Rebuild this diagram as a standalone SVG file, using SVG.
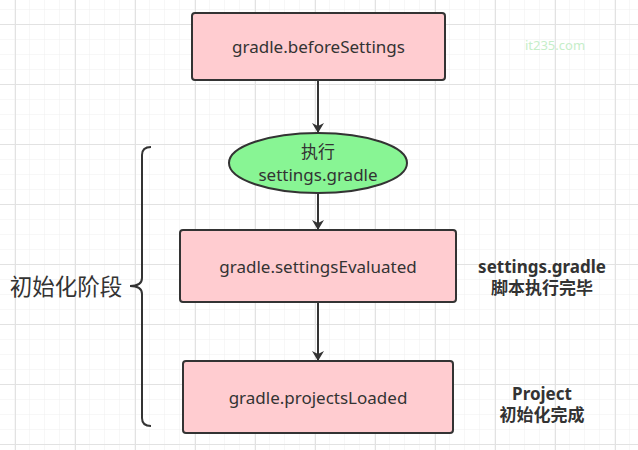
<svg xmlns="http://www.w3.org/2000/svg" width="638" height="450" viewBox="0 0 638 450">
<defs>
<pattern id="minor" x="0" y="9" width="15" height="15" patternUnits="userSpaceOnUse">
<path d="M15 0V15M0 0H15" fill="none" stroke="#efefef" stroke-width="1"/>
</pattern>
<pattern id="major" x="15" y="24" width="60" height="60" patternUnits="userSpaceOnUse">
<path d="M0.5 0V60M0 0.5H60" fill="none" stroke="#e2e2e2" stroke-width="1"/>
</pattern>
<marker id="arrow" viewBox="0 0 10 12" refX="10" refY="6" markerWidth="10" markerHeight="12" orient="auto" markerUnits="userSpaceOnUse">
<path d="M0 0L10 6L0 12L3 6Z" fill="#333"/>
</marker>
</defs>
<style>
.box{fill:#ffccd0;stroke:#333;stroke-width:2}
.ell{fill:#88f594;stroke:#333;stroke-width:2}
.t{font-family:"Noto Sans","Noto Sans CJK SC",sans-serif;font-size:17px;fill:#333;text-anchor:middle}
.b{font-family:"Noto Sans","Noto Sans CJK SC",sans-serif;font-size:17px;font-weight:bold;fill:#333;text-anchor:middle}
.edge{fill:none;stroke:#333;stroke-width:2;marker-end:url(#arrow)}
</style>
<rect width="638" height="450" fill="#fff"/>
<rect width="638" height="450" fill="url(#minor)"/>
<rect width="638" height="450" fill="url(#major)"/>
<text x="555" y="50" font-family="'Noto Sans',sans-serif" font-size="13" fill="#c6eec9" text-anchor="middle">it235.com</text>
<g id="edges">
<path class="edge" d="M318 80V133"/>
<path class="edge" d="M318 193V230"/>
<path class="edge" d="M318 302V361"/>
</g>
<g id="n1">
<rect class="box" x="192" y="13" width="253" height="67" rx="3"/>
<text class="t" x="318.5" y="52.5">gradle.beforeSettings</text>
</g>
<g id="n2">
<ellipse class="ell" cx="318" cy="163" rx="89" ry="30"/>
<text class="t" x="318" y="158">执行</text>
<text class="t" x="318" y="181">settings.gradle</text>
</g>
<g id="n3">
<rect class="box" x="180" y="230" width="276" height="72" rx="3"/>
<text class="t" x="318" y="272.5">gradle.settingsEvaluated</text>
</g>
<g id="n4">
<rect class="box" x="183" y="361" width="270" height="72" rx="3"/>
<text class="t" x="318" y="403.5">gradle.projectsLoaded</text>
</g>
<g id="brace">
<path d="M151 147Q142 147 142 155V278Q142 286 130 286Q142 286 142 294V418Q142 426 151 426" fill="none" stroke="#333" stroke-width="2"/>
<text x="66" y="295" font-family="'Noto Sans CJK SC',sans-serif" font-size="22.5" fill="#333" text-anchor="middle">初始化阶段</text>
</g>
<g id="l1">
<text class="b" x="542" y="273">settings.gradle</text>
<text class="b" x="542" y="294">脚本执行完毕</text>
</g>
<g id="l2">
<text class="b" x="542" y="400">Project</text>
<text class="b" x="542" y="421">初始化完成</text>
</g>
</svg>
